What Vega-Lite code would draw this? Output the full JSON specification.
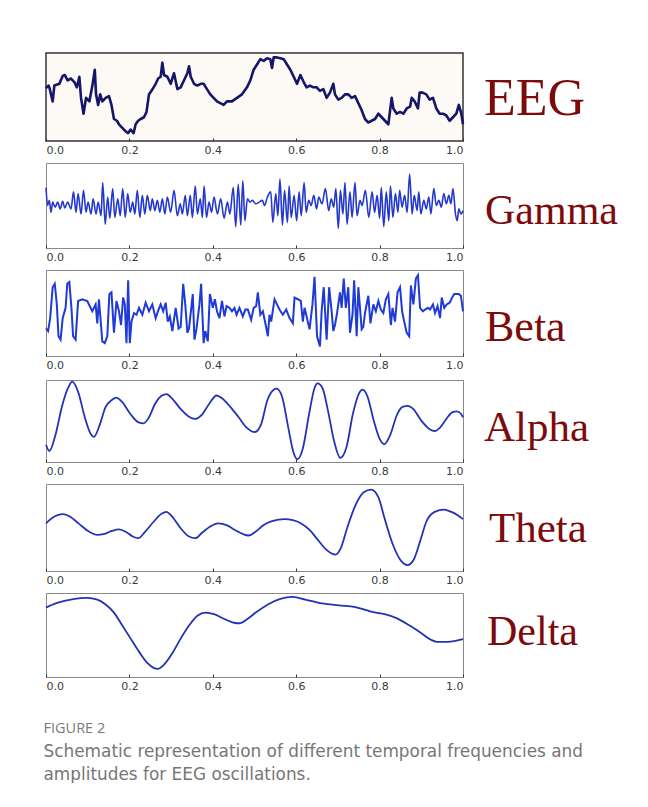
{
  "$schema": "https://vega.github.io/schema/vega-lite/v6.json",
  "background": "white",
  "padding": {"left": 41, "top": 52, "right": 0, "bottom": 0},
  "spacing": 6,
  "title": {
    "text": "FIGURE 2",
    "subtitle": ["Schematic representation of different temporal frequencies and", "amplitudes for EEG oscillations."],
    "orient": "bottom", "anchor": "start", "frame": "bounds", "offset": 30, "dx": 2,
    "font": "Open Sans", "fontSize": 14.5, "fontWeight": "normal", "color": "#7a7a7a",
    "subtitleFont": "DejaVu Sans", "subtitleFontSize": 16.9, "subtitleColor": "#767676", "subtitleLineHeight": 23, "subtitlePadding": 8
  },
  "datasets": {
    "eeg": [
      {"t":0,"v":60},{"t":0.006,"v":63},{"t":0.008,"v":61},{"t":0.016,"v":45},{"t":0.02,"v":63},{"t":0.032,"v":65},{"t":0.04,"v":74},{"t":0.045,"v":75},{"t":0.052,"v":69},{"t":0.06,"v":71},{"t":0.068,"v":67},{"t":0.074,"v":61},{"t":0.08,"v":73},{"t":0.084,"v":49},{"t":0.09,"v":31},{"t":0.096,"v":49},{"t":0.104,"v":45},{"t":0.112,"v":65},{"t":0.117,"v":81},{"t":0.12,"v":53},{"t":0.125,"v":41},{"t":0.13,"v":53},{"t":0.135,"v":45},{"t":0.143,"v":49},{"t":0.151,"v":51},{"t":0.157,"v":41},{"t":0.163,"v":25},{"t":0.17,"v":23},{"t":0.175,"v":19},{"t":0.183,"v":15},{"t":0.191,"v":11},{"t":0.197,"v":9},{"t":0.203,"v":13},{"t":0.21,"v":9},{"t":0.215,"v":19},{"t":0.221,"v":23},{"t":0.227,"v":25},{"t":0.235,"v":27},{"t":0.241,"v":33},{"t":0.247,"v":53},{"t":0.253,"v":57},{"t":0.263,"v":65},{"t":0.269,"v":71},{"t":0.275,"v":73},{"t":0.279,"v":89},{"t":0.283,"v":75},{"t":0.291,"v":73},{"t":0.299,"v":65},{"t":0.307,"v":77},{"t":0.315,"v":59},{"t":0.323,"v":61},{"t":0.331,"v":69},{"t":0.339,"v":77},{"t":0.343,"v":85},{"t":0.347,"v":73},{"t":0.355,"v":65},{"t":0.363,"v":63},{"t":0.371,"v":65},{"t":0.378,"v":65},{"t":0.386,"v":59},{"t":0.394,"v":53},{"t":0.402,"v":49},{"t":0.41,"v":45},{"t":0.418,"v":43},{"t":0.426,"v":41},{"t":0.434,"v":45},{"t":0.446,"v":45},{"t":0.458,"v":49},{"t":0.47,"v":53},{"t":0.482,"v":61},{"t":0.49,"v":69},{"t":0.498,"v":81},{"t":0.506,"v":87},{"t":0.514,"v":93},{"t":0.522,"v":91},{"t":0.53,"v":94},{"t":0.538,"v":93},{"t":0.542,"v":83},{"t":0.546,"v":95},{"t":0.554,"v":95},{"t":0.562,"v":94},{"t":0.57,"v":93},{"t":0.578,"v":87},{"t":0.586,"v":81},{"t":0.594,"v":73},{"t":0.602,"v":65},{"t":0.61,"v":75},{"t":0.618,"v":67},{"t":0.625,"v":61},{"t":0.633,"v":63},{"t":0.641,"v":61},{"t":0.649,"v":61},{"t":0.657,"v":57},{"t":0.665,"v":59},{"t":0.673,"v":49},{"t":0.681,"v":55},{"t":0.689,"v":65},{"t":0.693,"v":53},{"t":0.701,"v":47},{"t":0.709,"v":49},{"t":0.717,"v":53},{"t":0.725,"v":53},{"t":0.733,"v":49},{"t":0.741,"v":51},{"t":0.749,"v":43},{"t":0.757,"v":35},{"t":0.765,"v":25},{"t":0.773,"v":21},{"t":0.781,"v":23},{"t":0.789,"v":25},{"t":0.797,"v":31},{"t":0.805,"v":27},{"t":0.813,"v":23},{"t":0.821,"v":19},{"t":0.829,"v":49},{"t":0.833,"v":37},{"t":0.841,"v":31},{"t":0.849,"v":33},{"t":0.857,"v":31},{"t":0.865,"v":37},{"t":0.873,"v":39},{"t":0.877,"v":49},{"t":0.884,"v":45},{"t":0.892,"v":37},{"t":0.896,"v":55},{"t":0.903,"v":55},{"t":0.912,"v":53},{"t":0.92,"v":47},{"t":0.928,"v":49},{"t":0.936,"v":37},{"t":0.944,"v":31},{"t":0.952,"v":31},{"t":0.96,"v":29},{"t":0.968,"v":23},{"t":0.976,"v":27},{"t":0.984,"v":31},{"t":0.99,"v":41},{"t":0.996,"v":31},{"t":1,"v":19}
    ],
    "gamma": [
      {"t":0,"v":71},{"t":0.004,"v":50},{"t":0.008,"v":56},{"t":0.012,"v":42},{"t":0.016,"v":54},{"t":0.022,"v":48},{"t":0.028,"v":54},{"t":0.034,"v":46},{"t":0.04,"v":55},{"t":0.045,"v":47},{"t":0.052,"v":54},{"t":0.06,"v":46},{"t":0.066,"v":66},{"t":0.072,"v":42},{"t":0.077,"v":64},{"t":0.084,"v":40},{"t":0.09,"v":68},{"t":0.096,"v":42},{"t":0.101,"v":54},{"t":0.108,"v":40},{"t":0.113,"v":58},{"t":0.12,"v":40},{"t":0.125,"v":54},{"t":0.132,"v":38},{"t":0.136,"v":77},{"t":0.142,"v":28},{"t":0.148,"v":60},{"t":0.153,"v":35},{"t":0.16,"v":70},{"t":0.165,"v":36},{"t":0.172,"v":58},{"t":0.178,"v":38},{"t":0.184,"v":70},{"t":0.19,"v":36},{"t":0.196,"v":64},{"t":0.202,"v":42},{"t":0.208,"v":54},{"t":0.213,"v":40},{"t":0.219,"v":68},{"t":0.225,"v":36},{"t":0.231,"v":62},{"t":0.237,"v":40},{"t":0.243,"v":62},{"t":0.25,"v":44},{"t":0.255,"v":58},{"t":0.261,"v":44},{"t":0.267,"v":56},{"t":0.273,"v":42},{"t":0.279,"v":58},{"t":0.285,"v":40},{"t":0.291,"v":60},{"t":0.299,"v":42},{"t":0.307,"v":68},{"t":0.315,"v":38},{"t":0.322,"v":52},{"t":0.327,"v":40},{"t":0.334,"v":62},{"t":0.339,"v":38},{"t":0.346,"v":62},{"t":0.351,"v":36},{"t":0.358,"v":73},{"t":0.363,"v":40},{"t":0.37,"v":58},{"t":0.375,"v":36},{"t":0.379,"v":73},{"t":0.385,"v":36},{"t":0.391,"v":54},{"t":0.397,"v":42},{"t":0.403,"v":60},{"t":0.411,"v":40},{"t":0.419,"v":58},{"t":0.427,"v":35},{"t":0.435,"v":54},{"t":0.441,"v":40},{"t":0.449,"v":71},{"t":0.455,"v":25},{"t":0.461,"v":75},{"t":0.467,"v":27},{"t":0.472,"v":79},{"t":0.477,"v":32},{"t":0.483,"v":58},{"t":0.489,"v":54},{"t":0.495,"v":56},{"t":0.503,"v":52},{"t":0.511,"v":54},{"t":0.519,"v":56},{"t":0.524,"v":50},{"t":0.531,"v":60},{"t":0.539,"v":66},{"t":0.544,"v":30},{"t":0.551,"v":64},{"t":0.556,"v":38},{"t":0.561,"v":81},{"t":0.567,"v":27},{"t":0.572,"v":68},{"t":0.579,"v":30},{"t":0.583,"v":73},{"t":0.588,"v":36},{"t":0.595,"v":62},{"t":0.601,"v":32},{"t":0.607,"v":66},{"t":0.612,"v":38},{"t":0.619,"v":77},{"t":0.624,"v":42},{"t":0.63,"v":56},{"t":0.636,"v":50},{"t":0.642,"v":62},{"t":0.649,"v":46},{"t":0.654,"v":60},{"t":0.662,"v":52},{"t":0.67,"v":70},{"t":0.678,"v":44},{"t":0.684,"v":58},{"t":0.69,"v":48},{"t":0.695,"v":70},{"t":0.701,"v":23},{"t":0.706,"v":68},{"t":0.712,"v":40},{"t":0.717,"v":77},{"t":0.722,"v":28},{"t":0.729,"v":66},{"t":0.734,"v":36},{"t":0.741,"v":77},{"t":0.746,"v":38},{"t":0.753,"v":56},{"t":0.758,"v":50},{"t":0.766,"v":68},{"t":0.774,"v":36},{"t":0.782,"v":66},{"t":0.788,"v":42},{"t":0.794,"v":62},{"t":0.8,"v":35},{"t":0.804,"v":71},{"t":0.81,"v":25},{"t":0.816,"v":66},{"t":0.822,"v":32},{"t":0.826,"v":73},{"t":0.832,"v":36},{"t":0.838,"v":64},{"t":0.844,"v":42},{"t":0.848,"v":68},{"t":0.854,"v":48},{"t":0.86,"v":62},{"t":0.866,"v":42},{"t":0.872,"v":87},{"t":0.878,"v":40},{"t":0.883,"v":62},{"t":0.89,"v":44},{"t":0.894,"v":66},{"t":0.899,"v":40},{"t":0.906,"v":56},{"t":0.912,"v":46},{"t":0.918,"v":60},{"t":0.923,"v":40},{"t":0.93,"v":70},{"t":0.936,"v":50},{"t":0.942,"v":56},{"t":0.948,"v":48},{"t":0.954,"v":64},{"t":0.96,"v":52},{"t":0.966,"v":62},{"t":0.971,"v":52},{"t":0.976,"v":70},{"t":0.982,"v":40},{"t":0.986,"v":32},{"t":0.99,"v":46},{"t":0.995,"v":40},{"t":1,"v":44}
    ],
    "beta": [
      {"t":0,"v":32},{"t":0.005,"v":29},{"t":0.01,"v":44},{"t":0.016,"v":80},{"t":0.021,"v":84},{"t":0.026,"v":60},{"t":0.03,"v":23},{"t":0.035,"v":19},{"t":0.04,"v":44},{"t":0.047,"v":56},{"t":0.051,"v":84},{"t":0.056,"v":86},{"t":0.061,"v":56},{"t":0.065,"v":23},{"t":0.071,"v":19},{"t":0.077,"v":64},{"t":0.087,"v":66},{"t":0.099,"v":64},{"t":0.111,"v":52},{"t":0.119,"v":60},{"t":0.123,"v":38},{"t":0.127,"v":66},{"t":0.135,"v":17},{"t":0.141,"v":15},{"t":0.147,"v":23},{"t":0.152,"v":72},{"t":0.157,"v":74},{"t":0.163,"v":27},{"t":0.169,"v":64},{"t":0.175,"v":52},{"t":0.18,"v":36},{"t":0.185,"v":68},{"t":0.189,"v":60},{"t":0.193,"v":15},{"t":0.197,"v":88},{"t":0.201,"v":15},{"t":0.205,"v":40},{"t":0.211,"v":50},{"t":0.217,"v":48},{"t":0.223,"v":56},{"t":0.231,"v":48},{"t":0.239,"v":62},{"t":0.247,"v":52},{"t":0.255,"v":60},{"t":0.263,"v":44},{"t":0.27,"v":54},{"t":0.275,"v":60},{"t":0.281,"v":52},{"t":0.287,"v":62},{"t":0.292,"v":40},{"t":0.297,"v":46},{"t":0.303,"v":29},{"t":0.311,"v":56},{"t":0.318,"v":32},{"t":0.323,"v":34},{"t":0.329,"v":84},{"t":0.334,"v":60},{"t":0.339,"v":27},{"t":0.343,"v":32},{"t":0.352,"v":72},{"t":0.356,"v":19},{"t":0.361,"v":32},{"t":0.368,"v":60},{"t":0.372,"v":84},{"t":0.378,"v":15},{"t":0.382,"v":29},{"t":0.388,"v":17},{"t":0.393,"v":72},{"t":0.4,"v":56},{"t":0.405,"v":66},{"t":0.41,"v":52},{"t":0.416,"v":44},{"t":0.422,"v":64},{"t":0.428,"v":46},{"t":0.433,"v":58},{"t":0.44,"v":56},{"t":0.446,"v":52},{"t":0.452,"v":56},{"t":0.457,"v":48},{"t":0.464,"v":56},{"t":0.472,"v":46},{"t":0.478,"v":54},{"t":0.484,"v":54},{"t":0.492,"v":42},{"t":0.498,"v":56},{"t":0.504,"v":58},{"t":0.508,"v":74},{"t":0.514,"v":48},{"t":0.52,"v":52},{"t":0.526,"v":38},{"t":0.532,"v":23},{"t":0.536,"v":48},{"t":0.54,"v":40},{"t":0.548,"v":66},{"t":0.554,"v":60},{"t":0.56,"v":54},{"t":0.568,"v":48},{"t":0.576,"v":54},{"t":0.584,"v":44},{"t":0.592,"v":38},{"t":0.596,"v":68},{"t":0.604,"v":66},{"t":0.611,"v":64},{"t":0.616,"v":40},{"t":0.62,"v":56},{"t":0.624,"v":48},{"t":0.632,"v":31},{"t":0.639,"v":60},{"t":0.644,"v":92},{"t":0.65,"v":23},{"t":0.657,"v":11},{"t":0.661,"v":52},{"t":0.666,"v":80},{"t":0.673,"v":19},{"t":0.679,"v":80},{"t":0.685,"v":52},{"t":0.689,"v":29},{"t":0.693,"v":36},{"t":0.698,"v":50},{"t":0.705,"v":74},{"t":0.709,"v":56},{"t":0.714,"v":90},{"t":0.719,"v":56},{"t":0.725,"v":80},{"t":0.729,"v":27},{"t":0.735,"v":48},{"t":0.739,"v":88},{"t":0.745,"v":23},{"t":0.749,"v":80},{"t":0.753,"v":56},{"t":0.757,"v":31},{"t":0.761,"v":34},{"t":0.765,"v":50},{"t":0.773,"v":70},{"t":0.778,"v":38},{"t":0.785,"v":60},{"t":0.791,"v":52},{"t":0.797,"v":64},{"t":0.803,"v":54},{"t":0.809,"v":50},{"t":0.815,"v":66},{"t":0.821,"v":72},{"t":0.827,"v":36},{"t":0.831,"v":56},{"t":0.837,"v":40},{"t":0.843,"v":74},{"t":0.849,"v":80},{"t":0.854,"v":52},{"t":0.859,"v":40},{"t":0.865,"v":27},{"t":0.871,"v":23},{"t":0.875,"v":82},{"t":0.881,"v":60},{"t":0.887,"v":90},{"t":0.892,"v":94},{"t":0.897,"v":56},{"t":0.904,"v":52},{"t":0.909,"v":54},{"t":0.916,"v":56},{"t":0.921,"v":54},{"t":0.928,"v":60},{"t":0.933,"v":50},{"t":0.939,"v":58},{"t":0.945,"v":44},{"t":0.949,"v":68},{"t":0.955,"v":56},{"t":0.961,"v":60},{"t":0.968,"v":62},{"t":0.974,"v":68},{"t":0.979,"v":72},{"t":0.99,"v":72},{"t":0.995,"v":70},{"t":1,"v":52}
    ],
    "alpha": [
      {"t":0,"v":21},{"t":0.008,"v":13.4},{"t":0.023,"v":33.6},{"t":0.038,"v":67.2},{"t":0.053,"v":90.3},{"t":0.063,"v":97.9},{"t":0.078,"v":84},{"t":0.093,"v":54.6},{"t":0.108,"v":33.6},{"t":0.115,"v":30.7},{"t":0.128,"v":44.1},{"t":0.143,"v":67.2},{"t":0.158,"v":75.6},{"t":0.169,"v":78.6},{"t":0.182,"v":73.5},{"t":0.202,"v":58.8},{"t":0.222,"v":48.3},{"t":0.234,"v":47.1},{"t":0.247,"v":54.6},{"t":0.262,"v":71.4},{"t":0.277,"v":80.7},{"t":0.289,"v":82.8},{"t":0.302,"v":77.7},{"t":0.322,"v":65.1},{"t":0.342,"v":55.5},{"t":0.357,"v":52.5},{"t":0.372,"v":56.7},{"t":0.392,"v":71.4},{"t":0.409,"v":81.1},{"t":0.422,"v":77.7},{"t":0.442,"v":67.2},{"t":0.462,"v":54.6},{"t":0.481,"v":42},{"t":0.501,"v":36.6},{"t":0.516,"v":46.2},{"t":0.531,"v":75.6},{"t":0.546,"v":88.2},{"t":0.553,"v":89.5},{"t":0.566,"v":79.8},{"t":0.581,"v":42},{"t":0.593,"v":12.6},{"t":0.603,"v":3.4},{"t":0.616,"v":16.8},{"t":0.631,"v":58.8},{"t":0.644,"v":90.3},{"t":0.651,"v":95.8},{"t":0.663,"v":90.3},{"t":0.676,"v":63},{"t":0.691,"v":25.2},{"t":0.706,"v":5},{"t":0.721,"v":18.9},{"t":0.736,"v":58.8},{"t":0.751,"v":84},{"t":0.759,"v":88.2},{"t":0.771,"v":79.8},{"t":0.786,"v":50.4},{"t":0.801,"v":27.3},{"t":0.811,"v":21.8},{"t":0.826,"v":33.6},{"t":0.841,"v":56.7},{"t":0.855,"v":67.2},{"t":0.868,"v":68.5},{"t":0.88,"v":65.1},{"t":0.9,"v":50.4},{"t":0.92,"v":39.9},{"t":0.932,"v":37.8},{"t":0.945,"v":42},{"t":0.96,"v":52.5},{"t":0.975,"v":60.9},{"t":0.985,"v":61.8},{"t":0.995,"v":58.8},{"t":1,"v":54.6}
    ],
    "theta": [
      {"t":0,"v":54.7},{"t":0.013,"v":60.4},{"t":0.028,"v":64.2},{"t":0.041,"v":65.3},{"t":0.058,"v":62.3},{"t":0.078,"v":54.7},{"t":0.103,"v":45.3},{"t":0.123,"v":41.5},{"t":0.138,"v":42.3},{"t":0.158,"v":46},{"t":0.175,"v":47.9},{"t":0.193,"v":44.5},{"t":0.208,"v":39.6},{"t":0.221,"v":37.7},{"t":0.238,"v":45.3},{"t":0.258,"v":56.6},{"t":0.278,"v":66},{"t":0.288,"v":67.9},{"t":0.303,"v":62.3},{"t":0.323,"v":49.1},{"t":0.343,"v":39.6},{"t":0.358,"v":37.7},{"t":0.373,"v":43.4},{"t":0.393,"v":50.9},{"t":0.413,"v":54.7},{"t":0.433,"v":52.8},{"t":0.453,"v":47.2},{"t":0.473,"v":42.3},{"t":0.486,"v":40.8},{"t":0.503,"v":45.3},{"t":0.522,"v":52.8},{"t":0.542,"v":57.4},{"t":0.572,"v":59.6},{"t":0.592,"v":58.5},{"t":0.612,"v":54.7},{"t":0.632,"v":47.2},{"t":0.652,"v":35.8},{"t":0.672,"v":24.5},{"t":0.687,"v":19.6},{"t":0.694,"v":18.9},{"t":0.707,"v":26.4},{"t":0.722,"v":49.1},{"t":0.742,"v":75.5},{"t":0.762,"v":90.6},{"t":0.78,"v":93.6},{"t":0.797,"v":84.9},{"t":0.812,"v":60.4},{"t":0.832,"v":30.2},{"t":0.852,"v":11.3},{"t":0.867,"v":6.8},{"t":0.882,"v":13.2},{"t":0.897,"v":34},{"t":0.912,"v":56.6},{"t":0.932,"v":67.9},{"t":0.955,"v":70.6},{"t":0.972,"v":67.9},{"t":0.987,"v":64.2},{"t":1,"v":59.6}
    ],
    "delta": [
      {"t":0,"v":82.6},{"t":0.023,"v":87.6},{"t":0.053,"v":91.5},{"t":0.083,"v":93.8},{"t":0.098,"v":94.2},{"t":0.123,"v":92.2},{"t":0.143,"v":86.4},{"t":0.163,"v":76.7},{"t":0.183,"v":61.2},{"t":0.203,"v":45.7},{"t":0.223,"v":30.2},{"t":0.243,"v":16.7},{"t":0.258,"v":10.9},{"t":0.268,"v":9.7},{"t":0.283,"v":14.7},{"t":0.303,"v":28.3},{"t":0.323,"v":45.7},{"t":0.343,"v":61.2},{"t":0.363,"v":72.9},{"t":0.383,"v":76.7},{"t":0.403,"v":74.8},{"t":0.428,"v":69},{"t":0.453,"v":64.3},{"t":0.463,"v":64},{"t":0.483,"v":69},{"t":0.503,"v":76.7},{"t":0.532,"v":86.4},{"t":0.562,"v":93},{"t":0.592,"v":95.3},{"t":0.622,"v":92.2},{"t":0.662,"v":87.6},{"t":0.702,"v":85.3},{"t":0.742,"v":83.3},{"t":0.762,"v":80.6},{"t":0.782,"v":77.5},{"t":0.812,"v":74.8},{"t":0.842,"v":69.8},{"t":0.872,"v":61.2},{"t":0.902,"v":51.6},{"t":0.922,"v":44.6},{"t":0.937,"v":41.9},{"t":0.962,"v":41.9},{"t":0.982,"v":43},{"t":1,"v":45}
    ]
  },
  "vconcat": [
    {
      "width": 417, "height": 88,
      "view": {"fill": "#fdfaf5", "stroke": "#333333", "strokeWidth": 1.5},
      "layer": [
        {"data": {"name": "eeg"},
         "mark": {"type": "line", "color": "#15156a", "strokeWidth": 2.6, "strokeJoin": "round"},
         "encoding": {
           "x": {"field": "t", "type": "quantitative", "scale": {"domain": [0, 1], "nice": false, "zero": false}, "axis": {"values": [0, 0.2, 0.4, 0.6, 0.8, 1], "format": ".1f", "title": null}},
           "y": {"field": "v", "type": "quantitative", "scale": {"domain": [0, 100]}, "axis": null}}},
        {"data": {"values": [{"label": "EEG"}]},
         "mark": {"type": "text", "align": "left", "baseline": "middle", "dx": 21, "dy": 2, "font": "Liberation Serif", "fontSize": 52, "color": "#7d0b0b"},
         "encoding": {"x": {"datum": 1}, "y": {"datum": 50}, "text": {"field": "label"}}}
      ]
    },
    {
      "width": 417, "height": 85,
      "layer": [
        {"data": {"name": "gamma"},
         "mark": {"type": "line", "color": "#2438cc", "strokeWidth": 1.6, "interpolate": "monotone"},
         "encoding": {
           "x": {"field": "t", "type": "quantitative", "scale": {"domain": [0, 1], "nice": false, "zero": false}, "axis": {"values": [0, 0.2, 0.4, 0.6, 0.8, 1], "format": ".1f", "title": null}},
           "y": {"field": "v", "type": "quantitative", "scale": {"domain": [0, 100]}, "axis": null}}},
        {"data": {"values": [{"label": "Gamma"}]},
         "mark": {"type": "text", "align": "left", "baseline": "middle", "dx": 22, "dy": 5, "font": "Liberation Serif", "fontSize": 42, "color": "#7d0b0b"},
         "encoding": {"x": {"datum": 1}, "y": {"datum": 50}, "text": {"field": "label"}}}
      ]
    },
    {
      "width": 417, "height": 86,
      "layer": [
        {"data": {"name": "beta"},
         "mark": {"type": "line", "color": "#1f3ad6", "strokeWidth": 2},
         "encoding": {
           "x": {"field": "t", "type": "quantitative", "scale": {"domain": [0, 1], "nice": false, "zero": false}, "axis": {"values": [0, 0.2, 0.4, 0.6, 0.8, 1], "format": ".1f", "title": null}},
           "y": {"field": "v", "type": "quantitative", "scale": {"domain": [0, 100]}, "axis": null}}},
        {"data": {"values": [{"label": "Beta"}]},
         "mark": {"type": "text", "align": "left", "baseline": "middle", "dx": 22, "dy": 15, "font": "Liberation Serif", "fontSize": 44, "color": "#7d0b0b"},
         "encoding": {"x": {"datum": 1}, "y": {"datum": 50}, "text": {"field": "label"}}}
      ]
    },
    {
      "width": 417, "height": 82,
      "layer": [
        {"data": {"name": "alpha"},
         "mark": {"type": "line", "color": "#2234b5", "strokeWidth": 1.8, "interpolate": "monotone"},
         "encoding": {
           "x": {"field": "t", "type": "quantitative", "scale": {"domain": [0, 1], "nice": false, "zero": false}, "axis": {"values": [0, 0.2, 0.4, 0.6, 0.8, 1], "format": ".1f", "title": null}},
           "y": {"field": "v", "type": "quantitative", "scale": {"domain": [0, 100]}, "axis": null}}},
        {"data": {"values": [{"label": "Alpha"}]},
         "mark": {"type": "text", "align": "left", "baseline": "middle", "dx": 21, "dy": 7, "font": "Liberation Serif", "fontSize": 43, "color": "#7d0b0b"},
         "encoding": {"x": {"datum": 1}, "y": {"datum": 50}, "text": {"field": "label"}}}
      ]
    },
    {
      "width": 417, "height": 87,
      "layer": [
        {"data": {"name": "theta"},
         "mark": {"type": "line", "color": "#2234b5", "strokeWidth": 1.8, "interpolate": "monotone"},
         "encoding": {
           "x": {"field": "t", "type": "quantitative", "scale": {"domain": [0, 1], "nice": false, "zero": false}, "axis": {"values": [0, 0.2, 0.4, 0.6, 0.8, 1], "format": ".1f", "title": null}},
           "y": {"field": "v", "type": "quantitative", "scale": {"domain": [0, 100]}, "axis": null}}},
        {"data": {"values": [{"label": "Theta"}]},
         "mark": {"type": "text", "align": "left", "baseline": "middle", "dx": 26, "dy": 1, "font": "Liberation Serif", "fontSize": 43, "color": "#7d0b0b"},
         "encoding": {"x": {"datum": 1}, "y": {"datum": 50}, "text": {"field": "label"}}}
      ]
    },
    {
      "width": 417, "height": 84,
      "layer": [
        {"data": {"name": "delta"},
         "mark": {"type": "line", "color": "#2234b5", "strokeWidth": 1.8, "interpolate": "monotone"},
         "encoding": {
           "x": {"field": "t", "type": "quantitative", "scale": {"domain": [0, 1], "nice": false, "zero": false}, "axis": {"values": [0, 0.2, 0.4, 0.6, 0.8, 1], "format": ".1f", "title": null}},
           "y": {"field": "v", "type": "quantitative", "scale": {"domain": [0, 100]}, "axis": null}}},
        {"data": {"values": [{"label": "Delta"}]},
         "mark": {"type": "text", "align": "left", "baseline": "middle", "dx": 24, "dy": -3, "font": "Liberation Serif", "fontSize": 42, "color": "#7d0b0b"},
         "encoding": {"x": {"datum": 1}, "y": {"datum": 50}, "text": {"field": "label"}}}
      ]
    }
  ],
  "config": {
    "view": {"stroke": "#8a8a8a", "strokeWidth": 1},
    "axisX": {"domain": false, "grid": false, "ticks": true, "tickSize": -3, "tickColor": "#333333", "labelFont": "DejaVu Sans", "labelFontSize": 11, "labelColor": "#3a3a3a", "labelPadding": 6}
  }
}
